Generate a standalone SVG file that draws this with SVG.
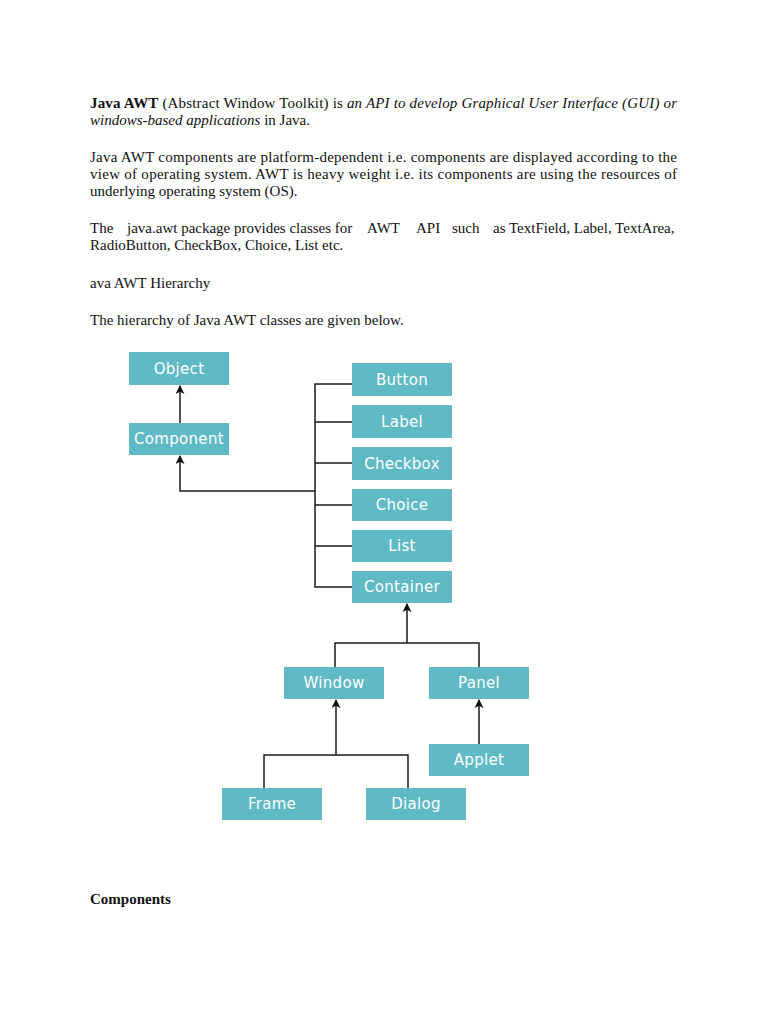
<svg xmlns="http://www.w3.org/2000/svg" width="768" height="1024" viewBox="0 0 768 1024">
<defs>
<marker id="arr" viewBox="0 0 10 10" refX="9" refY="5" markerWidth="9" markerHeight="9" markerUnits="userSpaceOnUse" orient="auto">
<path d="M0,0 L10,5 L0,10 L2.5,5 Z" fill="#111"/>
</marker>
</defs>
<style>
.t{font-family:"Liberation Serif","Times New Roman",serif;font-size:15px;fill:#111}
.b{font-weight:bold}
.i{font-style:italic}
.box rect{fill:#5fbac6}
.box text{font-family:"DejaVu Sans","Open Sans",sans-serif;font-size:15px;fill:#fff;text-anchor:middle;letter-spacing:0.3px}
.c{fill:none;stroke:#1a1a1a;stroke-width:1.5}
</style>
<rect width="768" height="1024" fill="#fff"/>
<g id="text">
<text class="t" x="90" y="108" textLength="587" lengthAdjust="spacing"><tspan class="b">Java AWT</tspan> (Abstract Window Toolkit) is <tspan class="i">an API to develop Graphical User Interface (GUI) or</tspan></text>
<text class="t" x="90" y="125"><tspan class="i">windows-based applications</tspan> in Java.</text>
<text class="t" x="90" y="162" textLength="587" lengthAdjust="spacing">Java AWT components are platform-dependent i.e. components are displayed according to the</text>
<text class="t" x="90" y="179" textLength="587" lengthAdjust="spacing">view of operating system. AWT is heavy weight i.e. its components are using the resources of</text>
<text class="t" x="90" y="196">underlying operating system (OS).</text>
<text class="t" y="233"><tspan x="90">The</tspan><tspan x="127">java.awt package provides classes for</tspan><tspan x="367">AWT</tspan><tspan x="416">API</tspan><tspan x="452">such</tspan><tspan x="493">as TextField, Label, TextArea,</tspan></text>
<text class="t" x="90" y="250">RadioButton, CheckBox, Choice, List etc.</text>
<text class="t" x="90" y="288">ava AWT Hierarchy</text>
<text class="t" x="90" y="325">The hierarchy of Java AWT classes are given below.</text>
<text class="t b" x="90" y="904">Components</text>
</g>
<g id="connectors">
<path class="c" d="M180,423 V386" marker-end="url(#arr)"/>
<path class="c" d="M315,491 H180 V456" marker-end="url(#arr)"/>
<path class="c" d="M352,384 H315 V587 H352"/>
<path class="c" d="M315,422 H352 M315,463 H352 M315,505 H352 M315,546 H352"/>
<path class="c" d="M407,643 V604" marker-end="url(#arr)"/>
<path class="c" d="M335,667 V643 H479 V667"/>
<path class="c" d="M479,744 V700" marker-end="url(#arr)"/>
<path class="c" d="M336,755 V700" marker-end="url(#arr)"/>
<path class="c" d="M264,788 V755 H408 V788"/>
</g>
<g id="object" class="box"><rect x="129" y="352" width="100" height="33"/><text x="179" y="374">Object</text></g>
<g id="component" class="box"><rect x="129" y="423" width="100" height="32"/><text x="179" y="444">Component</text></g>
<g id="button" class="box"><rect x="352" y="363" width="100" height="33"/><text x="402" y="385">Button</text></g>
<g id="label" class="box"><rect x="352" y="405" width="100" height="33"/><text x="402" y="427">Label</text></g>
<g id="checkbox" class="box"><rect x="352" y="447" width="100" height="33"/><text x="402" y="469">Checkbox</text></g>
<g id="choice" class="box"><rect x="352" y="489" width="100" height="32"/><text x="402" y="510">Choice</text></g>
<g id="list" class="box"><rect x="352" y="530" width="100" height="32"/><text x="402" y="551">List</text></g>
<g id="container" class="box"><rect x="352" y="571" width="100" height="32"/><text x="402" y="592">Container</text></g>
<g id="window" class="box"><rect x="284" y="667" width="100" height="32"/><text x="334" y="688">Window</text></g>
<g id="panel" class="box"><rect x="429" y="667" width="100" height="32"/><text x="479" y="688">Panel</text></g>
<g id="applet" class="box"><rect x="429" y="744" width="100" height="32"/><text x="479" y="765">Applet</text></g>
<g id="frame" class="box"><rect x="222" y="788" width="100" height="32"/><text x="272" y="809">Frame</text></g>
<g id="dialog" class="box"><rect x="366" y="788" width="100" height="32"/><text x="416" y="809">Dialog</text></g>
</svg>
